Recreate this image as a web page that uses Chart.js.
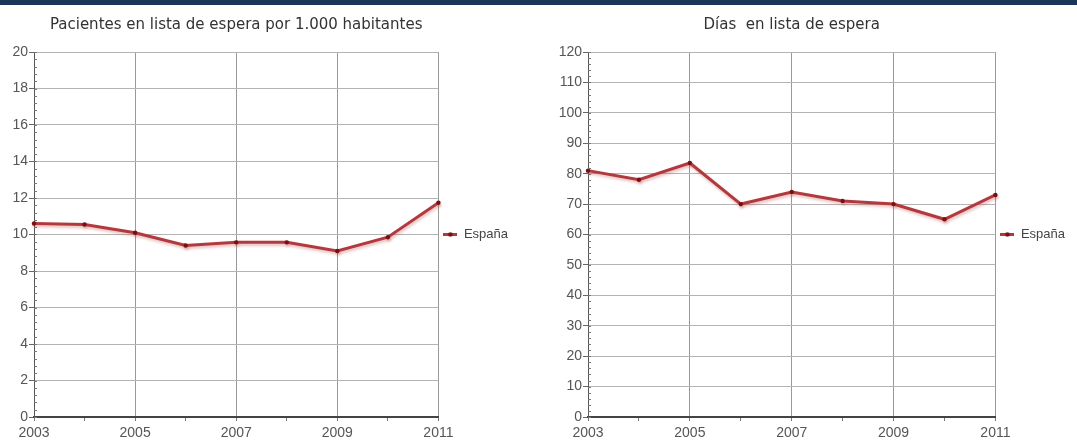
<!DOCTYPE html>
<html>
<head>
<meta charset="utf-8">
<script src="https://cdn.jsdelivr.net/npm/chart.js@4/dist/chart.umd.min.js"></script>
<style>
  body { margin: 0; background: #fff; width: 1077px; height: 441px; position: relative; overflow: hidden; }
  #bar { position: absolute; left: 0; top: 0; width: 1077px; height: 5px; background: #1b3659; z-index: 2; }
  canvas { position: absolute; top: 0; }
  #chartLeft { left: 0; }
  #chartRight { left: 540px; }
</style>
</head>
<body>
<div id="bar"></div>
<canvas id="chartLeft" width="518" height="441"></canvas>
<canvas id="chartRight" width="535" height="441"></canvas>
<script>
// datos
const years = ['2003', '2004', '2005', '2006', '2007', '2008', '2009', '2010', '2011'];
const serieName = 'España';
const pacientes = [10.6, 10.55, 10.1, 9.4, 9.57, 9.57, 9.1, 9.85, 11.74];
const dias = [81, 78, 83.5, 70, 74, 71, 70, 65, 73];
const pacientesTicks = [0, 2, 4, 6, 8, 10, 12, 14, 16, 18, 20];
const diasTicks = [0, 10, 20, 30, 40, 50, 60, 70, 80, 90, 100, 110, 120];

Chart.defaults.font.family = "'Liberation Sans', Arial, sans-serif";
Chart.defaults.color = '#555';

// marcador de la leyenda: linea con punto
function legendMarker() {
    const c = document.createElement('canvas');
    c.width = 14; c.height = 7;
    const g = c.getContext('2d');
    g.strokeStyle = '#b23a3e';
    g.lineWidth = 3;
    g.beginPath(); g.moveTo(0, 3.5); g.lineTo(14, 3.5); g.stroke();
    g.fillStyle = '#7a0f12';
    g.beginPath(); g.arc(7, 3.5, 2.2, 0, Math.PI * 2); g.fill();
    return c;
}

// titulo centrado sobre el area del grafico
const titlePlugin = {
    id: 'plotTitle',
    afterDraw(chart, args, opts) {
        const ctx = chart.ctx, a = chart.chartArea;
        ctx.save();
        ctx.font = "15px 'DejaVu Sans', Verdana, sans-serif";
        ctx.fillStyle = '#333';
        ctx.textAlign = 'center';
        ctx.textBaseline = 'middle';
        ctx.fillText(opts.text, (a.left + a.right) / 2, 25);
        ctx.restore();
    }
};

// marcas menores en el eje y
const minorTicks = {
    id: 'minorTicks',
    afterDraw(chart, args, opts) {
        const y = chart.scales.y, x = chart.scales.x, ctx = chart.ctx;
        ctx.save();
        ctx.strokeStyle = '#777';
        ctx.lineWidth = 1;
        for (let v = y.min; v <= y.max + 1e-9; v += opts.step) {
            const py = Math.round(y.getPixelForValue(v)) + 0.5;
            ctx.beginPath();
            ctx.moveTo(x.left, py);
            ctx.lineTo(x.left + 3, py);
            ctx.stroke();
        }
        ctx.restore();
    }
};

// sombra suave de la linea
const lineShadow = {
    id: 'lineShadow',
    beforeDatasetDraw(chart) {
        const ctx = chart.ctx;
        ctx.save();
        ctx.shadowColor = 'rgba(190, 80, 80, 0.4)';
        ctx.shadowBlur = 3;
        ctx.shadowOffsetX = 1;
        ctx.shadowOffsetY = 2;
    },
    afterDatasetDraw(chart) {
        chart.ctx.restore();
    }
};

function makeConfig(values, ticks, minorStep, title, yWidth) {
    return {
        type: 'line',
        data: {
            labels: years,
            datasets: [{
                label: serieName,
                data: values,
                borderColor: '#b23a3e',
                borderWidth: 3,
                pointRadius: 2.2,
                pointBackgroundColor: '#7a0f12',
                pointBorderWidth: 0,
                tension: 0,
                fill: false
            }]
        },
        options: {
            responsive: false,
            animation: false,
            events: [],
            layout: { padding: { top: 52, left: 0, right: 0, bottom: 0 } },
            scales: {
                x: {
                    type: 'category',
                    offset: false,
                    afterFit: s => { s.height = 24; },
                    grid: {
                        color: c => (c.index % 2 === 0 ? '#999' : 'rgba(0,0,0,0)'),
                        tickColor: '#777',
                        tickLength: 4,
                        lineWidth: 1
                    },
                    border: { color: '#444', width: 2 },
                    ticks: {
                        autoSkip: false,
                        maxRotation: 0,
                        padding: 4,
                        font: { size: 14 },
                        color: '#555',
                        callback: (v, i) => (i % 2 === 0 ? years[i] : '')
                    }
                },
                y: {
                    min: ticks[0],
                    max: ticks[ticks.length - 1],
                    afterFit: s => { s.width = yWidth; },
                    afterBuildTicks: s => { s.ticks = ticks.map(v => ({ value: v })); },
                    grid: { color: '#b4b4b4', tickColor: '#666', tickLength: 5 },
                    border: { color: '#555', width: 1 },
                    ticks: { padding: 1, font: { size: 14 }, color: '#555' }
                }
            },
            plugins: {
                legend: {
                    position: 'right',
                    fullSize: false,
                    labels: {
                        usePointStyle: true,
                        pointStyle: legendMarker(),
                        pointStyleWidth: 14,
                        padding: 5,
                        font: { size: 13 },
                        color: '#444'
                    }
                },
                tooltip: { enabled: false },
                plotTitle: { text: title },
                minorTicks: { step: minorStep }
            }
        },
        plugins: [titlePlugin, minorTicks, lineShadow]
    };
}

new Chart(document.getElementById('chartLeft'),
    makeConfig(pacientes, pacientesTicks, 0.4, 'Pacientes en lista de espera por 1.000 habitantes', 34));
new Chart(document.getElementById('chartRight'),
    makeConfig(dias, diasTicks, 2, 'Días  en lista de espera', 48));
</script>
</body>
</html>
